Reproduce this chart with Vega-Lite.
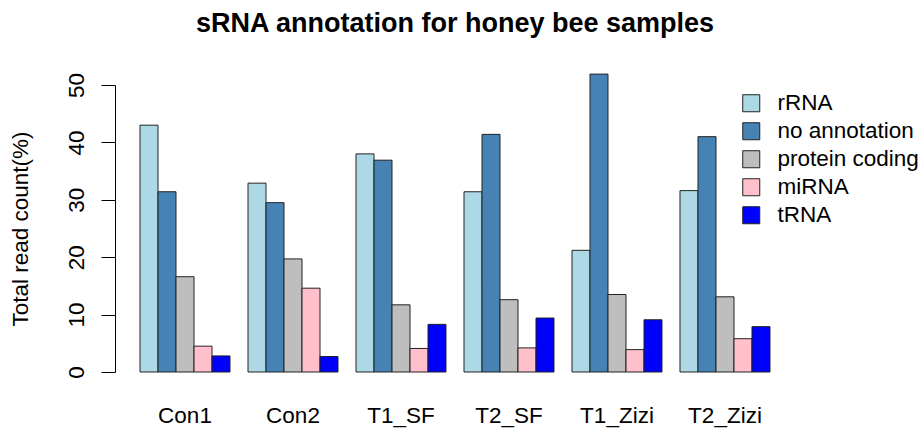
{
  "$schema": "https://vega.github.io/schema/vega-lite/v6.json",
  "autosize": {"type": "none"},
  "width": 680,
  "height": 287,
  "padding": {"left": 115, "top": 85, "right": 127, "bottom": 58},
  "background": "white",
  "title": {
    "text": "sRNA annotation for honey bee samples",
    "font": "Liberation Sans",
    "fontSize": 27,
    "fontWeight": "bold",
    "color": "black",
    "anchor": "middle",
    "baseline": "alphabetic",
    "offset": 13
  },
  "config": {
    "view": {"stroke": null},
    "font": "Liberation Sans"
  },
  "data": {
    "values": [
      {"sample": "Con1", "type": "rRNA", "value": 43.0},
      {"sample": "Con1", "type": "no annotation", "value": 31.4},
      {"sample": "Con1", "type": "protein coding", "value": 16.6},
      {"sample": "Con1", "type": "miRNA", "value": 4.5},
      {"sample": "Con1", "type": "tRNA", "value": 2.8},
      {"sample": "Con2", "type": "rRNA", "value": 32.9},
      {"sample": "Con2", "type": "no annotation", "value": 29.5},
      {"sample": "Con2", "type": "protein coding", "value": 19.7},
      {"sample": "Con2", "type": "miRNA", "value": 14.6},
      {"sample": "Con2", "type": "tRNA", "value": 2.7},
      {"sample": "T1_SF", "type": "rRNA", "value": 38.0},
      {"sample": "T1_SF", "type": "no annotation", "value": 36.9},
      {"sample": "T1_SF", "type": "protein coding", "value": 11.7},
      {"sample": "T1_SF", "type": "miRNA", "value": 4.1},
      {"sample": "T1_SF", "type": "tRNA", "value": 8.3},
      {"sample": "T2_SF", "type": "rRNA", "value": 31.4},
      {"sample": "T2_SF", "type": "no annotation", "value": 41.4},
      {"sample": "T2_SF", "type": "protein coding", "value": 12.6},
      {"sample": "T2_SF", "type": "miRNA", "value": 4.2},
      {"sample": "T2_SF", "type": "tRNA", "value": 9.4},
      {"sample": "T1_Zizi", "type": "rRNA", "value": 21.2},
      {"sample": "T1_Zizi", "type": "no annotation", "value": 51.9},
      {"sample": "T1_Zizi", "type": "protein coding", "value": 13.5},
      {"sample": "T1_Zizi", "type": "miRNA", "value": 3.9},
      {"sample": "T1_Zizi", "type": "tRNA", "value": 9.1},
      {"sample": "T2_Zizi", "type": "rRNA", "value": 31.6},
      {"sample": "T2_Zizi", "type": "no annotation", "value": 41.0},
      {"sample": "T2_Zizi", "type": "protein coding", "value": 13.1},
      {"sample": "T2_Zizi", "type": "miRNA", "value": 5.8},
      {"sample": "T2_Zizi", "type": "tRNA", "value": 7.9}
    ]
  },
  "mark": {"type": "bar", "stroke": "#222222", "strokeWidth": 1, "clip": false},
  "encoding": {
    "x": {
      "field": "sample",
      "type": "nominal",
      "sort": ["Con1", "Con2", "T1_SF", "T2_SF", "T1_Zizi", "T2_Zizi"],
      "scale": {"paddingInner": 0.16667, "paddingOuter": 0.2315},
      "axis": {
        "title": null,
        "domain": false,
        "ticks": false,
        "tickSize": 0,
        "labelAngle": 0,
        "labelFontSize": 22.5,
        "labelColor": "black",
        "labelBaseline": "alphabetic",
        "labelPadding": 50
      }
    },
    "xOffset": {
      "field": "type",
      "type": "nominal",
      "sort": ["rRNA", "no annotation", "protein coding", "miRNA", "tRNA"],
      "scale": {"paddingInner": 0, "paddingOuter": 0}
    },
    "y": {
      "field": "value",
      "type": "quantitative",
      "scale": {"domain": [0, 50], "nice": false, "zero": true},
      "axis": {
        "title": "Total read count(%)",
        "titleFontSize": 22.5,
        "titleFontWeight": "normal",
        "titleColor": "black",
        "titlePadding": 33,
        "values": [0, 10, 20, 30, 40, 50],
        "grid": false,
        "domainColor": "black",
        "tickColor": "black",
        "tickSize": 14,
        "labelAngle": 270,
        "labelAlign": "center",
        "labelBaseline": "alphabetic",
        "labelPadding": 18,
        "labelFontSize": 22.5,
        "labelColor": "black"
      }
    },
    "fill": {
      "field": "type",
      "type": "nominal",
      "sort": ["rRNA", "no annotation", "protein coding", "miRNA", "tRNA"],
      "scale": {
        "domain": ["rRNA", "no annotation", "protein coding", "miRNA", "tRNA"],
        "range": ["#ADD8E6", "#4682B4", "#BEBEBE", "#FFC0CB", "#0000FF"]
      },
      "legend": {
        "title": null,
        "orient": "none",
        "legendX": 625,
        "legendY": 7,
        "padding": 0,
        "symbolType": "square",
        "symbolSize": 290,
        "symbolStrokeColor": "#222222",
        "symbolStrokeWidth": 1,
        "labelFontSize": 22.5,
        "labelColor": "black",
        "labelOffset": 15,
        "rowPadding": 5
      }
    }
  }
}
